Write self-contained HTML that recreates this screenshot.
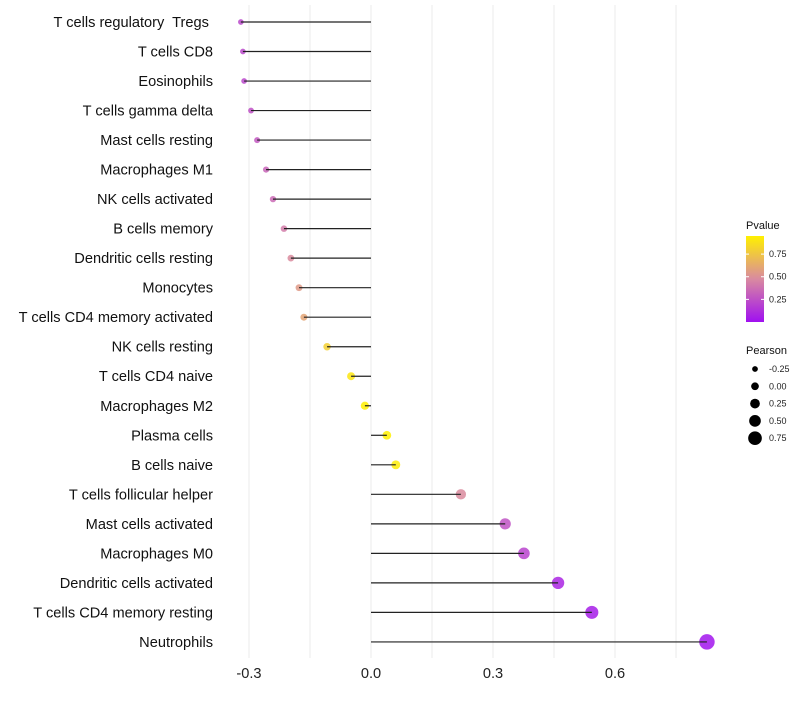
<!DOCTYPE html>
<html><head><meta charset="utf-8"><style>
body{margin:0;background:#fff;font-family:"Liberation Sans",sans-serif;}
svg text{font-family:"Liberation Sans",sans-serif;white-space:pre;}
</style></head><body>
<svg id="c" width="800" height="700"></svg>
<script>
const categories=["T cells regulatory  Tregs ","T cells CD8","Eosinophils","T cells gamma delta","Mast cells resting","Macrophages M1","NK cells activated","B cells memory","Dendritic cells resting","Monocytes","T cells CD4 memory activated","NK cells resting","T cells CD4 naive","Macrophages M2","Plasma cells","B cells naive","T cells follicular helper","Mast cells activated","Macrophages M0","Dendritic cells activated","T cells CD4 memory resting","Neutrophils"];
const pearson=[-0.32,-0.315,-0.312,-0.295,-0.28,-0.258,-0.241,-0.214,-0.197,-0.177,-0.165,-0.108,-0.049,-0.015,0.039,0.061,0.221,0.33,0.376,0.46,0.543,0.826];
const pvalue=[0.22,0.22,0.22,0.25,0.28,0.33,0.35,0.42,0.48,0.55,0.6,0.8,0.9,0.96,0.95,0.93,0.48,0.26,0.2,0.08,0.05,0.02];
const xTicks=[-0.3,0,0.3,0.6];
const xTickLabels=["-0.3","0.0","0.3","0.6"];
const pTicks=[0.25,0.5,0.75];
const sizeTicks=[-0.25,0,0.25,0.5,0.75];

const NS="http://www.w3.org/2000/svg";
const svg=document.getElementById('c');
function mk(t,a,p){const e=document.createElementNS(NS,t);for(const k in a)e.setAttribute(k,a[k]);(p||svg).appendChild(e);return e;}
const x=v=>371+v*406.7;
const y=i=>22+i*29.52;
const r=v=>Math.max(2,4.2+4.3*v);
function lerp(a,b,t){return a.map((v,i)=>Math.round(v+(b[i]-v)*t));}
function col(p){const s=[[160,16,240],[217,138,160],[255,240,0]];let t=Math.min(1,Math.max(0,p/0.95));const c=t<0.5?lerp(s[0],s[1],t*2):lerp(s[1],s[2],(t-0.5)*2);return `rgb(${c.join(',')})`;}

for(let v=-0.3;v<=0.76;v+=0.15){const g=mk('line',{x1:x(v),x2:x(v),y1:5,y2:658,stroke:'#ebebeb','stroke-width':1});
}
xTicks.forEach((t,i)=>{const e=mk('text',{x:x(t),y:678,'text-anchor':'middle','font-size':14.6,fill:'#222'});e.textContent=xTickLabels[i];
});
categories.forEach((c,i)=>{
const l=mk('text',{x:213,y:y(i)+5,'text-anchor':'end','font-size':14.6,fill:'#111'});l.textContent=c;

const d=mk('circle',{cx:x(pearson[i]),cy:y(i),r:r(pearson[i]),fill:col(pvalue[i]),'fill-opacity':0.85});

const s=mk('line',{x1:x(0),x2:x(pearson[i]),y1:y(i),y2:y(i),stroke:'#222','stroke-width':1.2});

});
const lt=mk('text',{x:746,y:229,'font-size':11,fill:'#111'});lt.textContent='Pvalue';

const defs=mk('defs',{});const gr=mk('linearGradient',{id:'g',x1:0,y1:1,x2:0,y2:0},defs);
[[0,col(0)],[0.5,col(0.475)],[1,col(0.95)]].forEach(s=>mk('stop',{offset:s[0],'stop-color':s[1]},gr));
const cb=mk('rect',{x:746,y:236,width:18,height:86,fill:'url(#g)'});

const py=p=>322-p/0.95*86;
pTicks.forEach(p=>{mk('line',{x1:746,x2:749,y1:py(p),y2:py(p),stroke:'#fff'});mk('line',{x1:761,x2:764,y1:py(p),y2:py(p),stroke:'#fff'});
const t=mk('text',{x:769,y:py(p)+3,'font-size':9,fill:'#222'});t.textContent=p.toFixed(2);
});
const st=mk('text',{x:746,y:354,'font-size':11,fill:'#111'});st.textContent='Pearson';

sizeTicks.forEach((v,i)=>{const cy=369+i*17.3;
const c=mk('circle',{cx:755,cy:cy,r:r(v)*0.92,fill:'#000'});

const t=mk('text',{x:769,y:cy+3,'font-size':9,fill:'#222'});t.textContent=v.toFixed(2);
});
</script>
</body></html>
